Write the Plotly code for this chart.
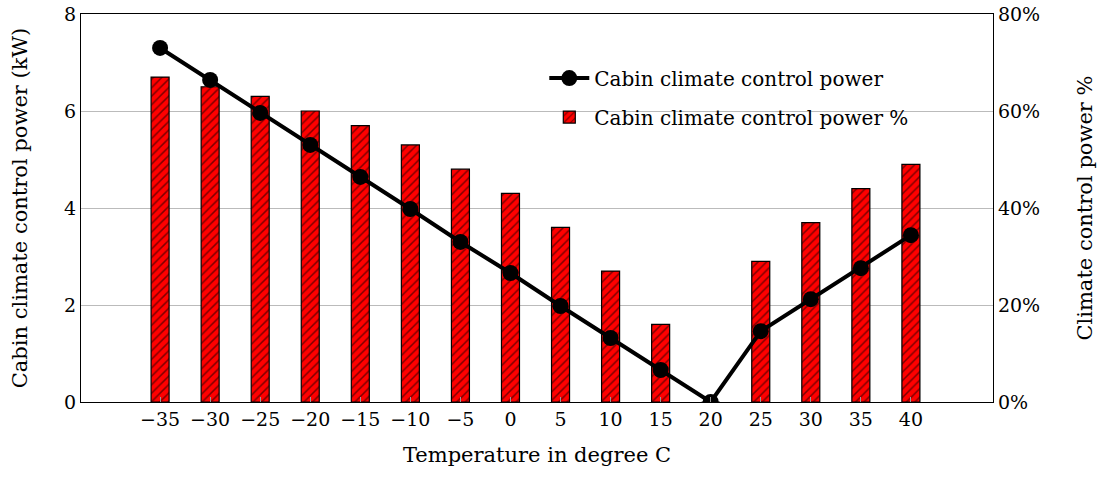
import plotly.graph_objects as go

# Ambient temperature categories (degree C)
temperatures = [-35, -30, -25, -20, -15, -10, -5, 0, 5, 10, 15, 20, 25, 30, 35, 40]
# Cabin climate control power (kW)
power_kw = [7.30, 6.64, 5.96, 5.30, 4.64, 3.98, 3.30, 2.66, 1.98, 1.32, 0.66, 0.0,
            1.46, 2.12, 2.76, 3.44]
# Share of total power used by climate control (%)
power_pct = [67, 65, 63, 60, 57, 53, 48, 43, 36, 27, 16, 0, 29, 37, 44, 49]

tick_text = [str(t).replace("-", "\u2212") for t in temperatures]

FONT = "DejaVu Serif, serif"


def serif(size):
    return dict(family=FONT, size=size, color="black")


fig = go.Figure()

fig.add_trace(go.Bar(
    x=temperatures, y=power_pct,
    name="Cabin climate control power %",
    width=1.8,
    marker=dict(
        color="#ff0000",
        line=dict(color="black", width=1.2),
        pattern=dict(shape="/", fgcolor="black", bgcolor="#ff0000",
                     size=6, solidity=0.25),
    ),
    yaxis="y", legendrank=2, legendgroup="pct",
))

fig.add_trace(go.Scatter(
    x=temperatures, y=power_kw,
    name="Cabin climate control power",
    mode="lines+markers",
    line=dict(color="black", width=4),
    marker=dict(color="black", size=16),
    yaxis="y2", legendrank=1, legendgroup="kw",
))

fig.update_layout(
    width=1108, height=482,
    margin=dict(l=81, r=115, t=14, b=80),
    paper_bgcolor="white", plot_bgcolor="white",
    font=serif(19),
    showlegend=True,
    legend=dict(x=0.508, y=0.885, xanchor="left", yanchor="top",
                bgcolor="rgba(255,255,255,0)", font=serif(20),
                tracegroupgap=10, itemwidth=40),
    xaxis=dict(
        range=[-42.9, 48.2],
        tickvals=temperatures, ticktext=tick_text,
        ticks="inside", ticklen=5, tickcolor="#999999",
        tickfont=serif(19),
        showgrid=False, zeroline=False, automargin=False,
        showline=True, linecolor="black", linewidth=1.3, mirror=True,
        title=dict(text="Temperature in degree C", standoff=18,
                   font=serif(21)),
    ),
    yaxis=dict(
        side="right", range=[0, 80], tickvals=[0, 20, 40, 60, 80],
        ticktext=["0%", "20%", "40%", "60%", "80%"],
        tickfont=serif(19), automargin=False,
        showgrid=True, gridcolor="#bbbbbb", gridwidth=1,
        zeroline=False, showline=True, linecolor="black", linewidth=1.3,
        ticks="", title=dict(text="Climate control power %", standoff=38,
                             font=serif(21)),
    ),
    yaxis2=dict(
        overlaying="y", side="left", range=[0, 8], tickvals=[0, 2, 4, 6, 8],
        tickfont=serif(19), automargin=False,
        showgrid=False, zeroline=False, showline=True, linecolor="black",
        linewidth=1.3, ticks="",
        title=dict(text="Cabin climate control power (kW)", standoff=30,
                   font=serif(21)),
    ),
)

fig.write_html("out.html")
